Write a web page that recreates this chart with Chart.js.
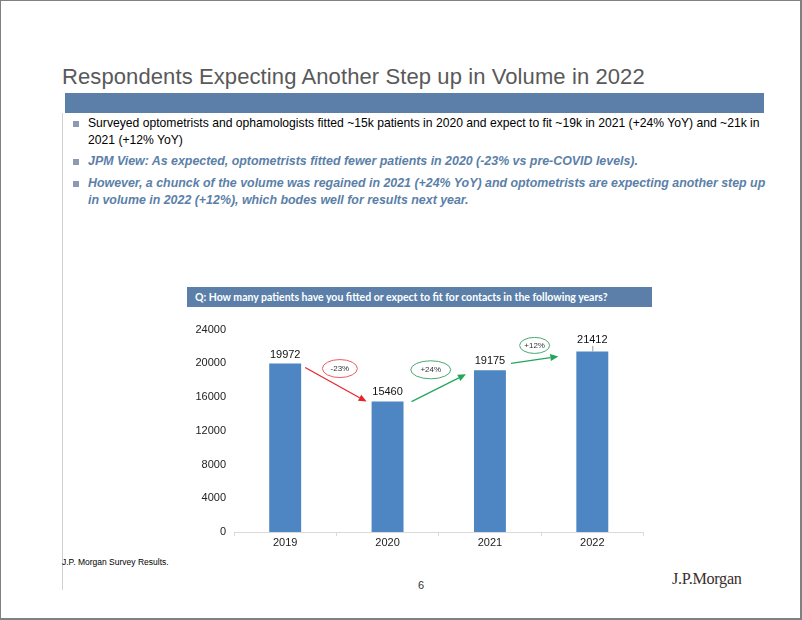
<!DOCTYPE html>
<html><head><meta charset="utf-8">
<script src="https://cdn.jsdelivr.net/npm/chart.js@4/dist/chart.umd.min.js"></script>
<style>
html,body{margin:0;padding:0;background:#fff;}
#page{position:relative;width:802px;height:620px;overflow:hidden;font-family:"Liberation Sans",Arial,sans-serif;}
.abs{position:absolute;white-space:nowrap;}
#frame{position:absolute;left:0;top:0;width:799px;height:617px;border:1px solid #808080;border-width:1px 2px 2px 1px;}
#title{left:62px;top:64px;font-size:22px;color:#595959;letter-spacing:0.1px;}
#band{left:65px;top:93px;width:699px;height:20px;background:#5b7fa9;}
#vline{left:62px;top:113px;width:1px;height:477px;background:#d0d0d0;}
.bul{position:absolute;left:73px;width:6px;height:6px;background:#8b9bb6;}
.txt{position:absolute;left:88px;font-size:12.15px;line-height:17px;color:#000;white-space:nowrap;}
.it{color:#5b7fa9;font-style:italic;font-weight:bold;font-size:12.4px;}
#qhead{left:187px;top:287px;width:465px;height:20px;background:#5b7fa9;color:#fff;font-family:Lato,"Open Sans",sans-serif;font-weight:bold;font-size:10.5px;line-height:20px;text-indent:8px;}
#src{left:62px;top:557px;font-size:8.5px;color:#000;}
#pnum{left:418px;top:579px;font-size:11px;color:#333;}
#logo{left:672px;top:570px;font-family:"Liberation Serif","DejaVu Serif",serif;font-size:16.2px;color:#3a2e2a;letter-spacing:-0.3px;}
#cv{position:absolute;left:180px;top:315px;}
</style></head>
<body><div id="page">
<div id="frame"></div>
<div class="abs" id="title">Respondents Expecting Another Step up in Volume in 2022</div>
<div class="abs" id="band"></div>
<div class="abs" id="vline"></div>
<div class="bul" style="top:121px"></div>
<div class="txt" style="top:115px">Surveyed optometrists and ophamologists fitted ~15k patients in 2020 and expect to fit ~19k in 2021 (+24% YoY) and ~21k in<br>2021 (+12% YoY)</div>
<div class="bul" style="top:159px"></div>
<div class="txt it" style="top:153px">JPM View: As expected, optometrists fitted fewer patients in 2020 (-23% vs pre-COVID levels).</div>
<div class="bul" style="top:181px"></div>
<div class="txt it" style="top:175px">However, a chunck of the volume was regained in 2021 (+24% YoY) and optometrists are expecting another step up<br>in volume in 2022 (+12%), which bodes well for results next year.</div>
<div class="abs" id="qhead">Q: How many patients have you fitted or expect to fit for contacts in the following years?</div>
<canvas id="cv" width="480" height="240"></canvas>
<div class="abs" id="src">J.P. Morgan Survey Results.</div>
<div class="abs" id="pnum">6</div>
<div class="abs" id="logo">J.P.Morgan</div>
</div>
<script>
// ---- data ----
const years = ["2019", "2020", "2021", "2022"];
const patients = [19972, 15460, 19175, 21412];
const yTicks = [0, 4000, 8000, 12000, 16000, 20000, 24000];

// ---- decoration styles (pixel offsets relative to bars) ----
const labelLift = [8.5, 10, 9, 11.5];
const arrowStyle = [
  {color:"#e8232b", sx:4, sy:4, ex:-5, ey:0},
  {color:"#22a75a", sx:8, sy:0, ex:-8, ey:4},
  {color:"#22a75a", sx:5, sy:-7, ex:-18, ey:5}
];
const ellipseStyle = [
  {stroke:"#ea5b62", dx:3.5, dy:5, rx:17.5, ry:9},
  {stroke:"#49a872", dx:-8, dy:-0.5, rx:20, ry:9},
  {stroke:"#49a872", dx:-6.5, dy:-6, rx:15, ry:8}
];

function pctLabel(a, b){
  const p = Math.round((b - a) / a * 100);
  return (p > 0 ? "+" : "") + p + "%";
}

function arrow(ctx, x1, y1, x2, y2, color){
  ctx.save();
  ctx.strokeStyle = color; ctx.fillStyle = color; ctx.lineWidth = 1.2;
  const ang = Math.atan2(y2 - y1, x2 - x1);
  const hl = 8, hw = 3.5;
  const bx = x2 - hl * Math.cos(ang), by = y2 - hl * Math.sin(ang);
  ctx.beginPath(); ctx.moveTo(x1, y1); ctx.lineTo(bx, by); ctx.stroke();
  ctx.beginPath();
  ctx.moveTo(x2, y2);
  ctx.lineTo(bx + hw * Math.sin(ang), by - hw * Math.cos(ang));
  ctx.lineTo(bx - hw * Math.sin(ang), by + hw * Math.cos(ang));
  ctx.closePath(); ctx.fill();
  ctx.restore();
}

const decor = {
  id: "decor",
  afterDatasetsDraw(chart){
    const ctx = chart.ctx;
    const bars = chart.getDatasetMeta(0).data;
    const info = bars.map(b => ({x:b.x, top:b.y, left:b.x - b.width/2, right:b.x + b.width/2}));
    ctx.save();
    ctx.font = "11px 'Liberation Sans', Arial, sans-serif";
    ctx.fillStyle = "#111";
    ctx.textAlign = "center"; ctx.textBaseline = "middle";
    patients.forEach((v, i) => {
      const ly = info[i].top - labelLift[i];
      ctx.fillText(String(v), info[i].x, ly);
      if (labelLift[i] > 10) {
        ctx.strokeStyle = "#999"; ctx.lineWidth = 1;
        ctx.beginPath(); ctx.moveTo(info[i].x + 0.5, ly + 6); ctx.lineTo(info[i].x + 0.5, info[i].top); ctx.stroke();
      }
    });
    for (let i = 0; i < patients.length - 1; i++) {
      const a = info[i], b = info[i+1], s = arrowStyle[i], e = ellipseStyle[i];
      arrow(ctx, a.right + s.sx, a.top + s.sy, b.left + s.ex, b.top + s.ey, s.color);
      const cx = (a.x + b.x) / 2 + e.dx, cy = Math.min(a.top, b.top) + e.dy;
      ctx.beginPath(); ctx.ellipse(cx, cy, e.rx, e.ry, 0, 0, Math.PI * 2);
      ctx.strokeStyle = e.stroke; ctx.lineWidth = 1; ctx.stroke();
      ctx.font = "8px 'Liberation Sans', Arial, sans-serif";
      ctx.fillStyle = "#333";
      ctx.fillText(pctLabel(patients[i], patients[i+1]), cx, cy);
    }
    ctx.restore();
  }
};

new Chart(document.getElementById("cv"), {
  type: "bar",
  data: { labels: years, datasets: [{ data: patients, backgroundColor: "#4d86c2", borderWidth: 0,
          categoryPercentage: 1, barPercentage: 0.312 }] },
  options: {
    responsive: false, animation: false,
    layout: { padding: { top: 13, right: 16.5, left: 0, bottom: 0 } },
    plugins: { legend: { display: false }, tooltip: { enabled: false } },
    scales: {
      x: {
        grid: { drawOnChartArea: false, drawTicks: true, tickLength: 4, color: "#d9d9d9", offset: true },
        border: { display: true, color: "#d9d9d9", width: 1 },
        ticks: { padding: 0, color: "#222", font: { family: "'Liberation Sans', Arial, sans-serif", size: 11 } },
        afterFit(s){ s.height = 23; }
      },
      y: {
        min: 0, max: 24000,
        grid: { display: false, drawTicks: false },
        border: { display: false },
        afterBuildTicks(s){ s.ticks = yTicks.map(v => ({value: v})); },
        ticks: { padding: 8, color: "#222", font: { family: "'Liberation Sans', Arial, sans-serif", size: 11 },
                 callback: v => String(v) },
        afterFit(s){ s.width = 54; }
      }
    }
  },
  plugins: [decor]
});
</script>
</body></html>
